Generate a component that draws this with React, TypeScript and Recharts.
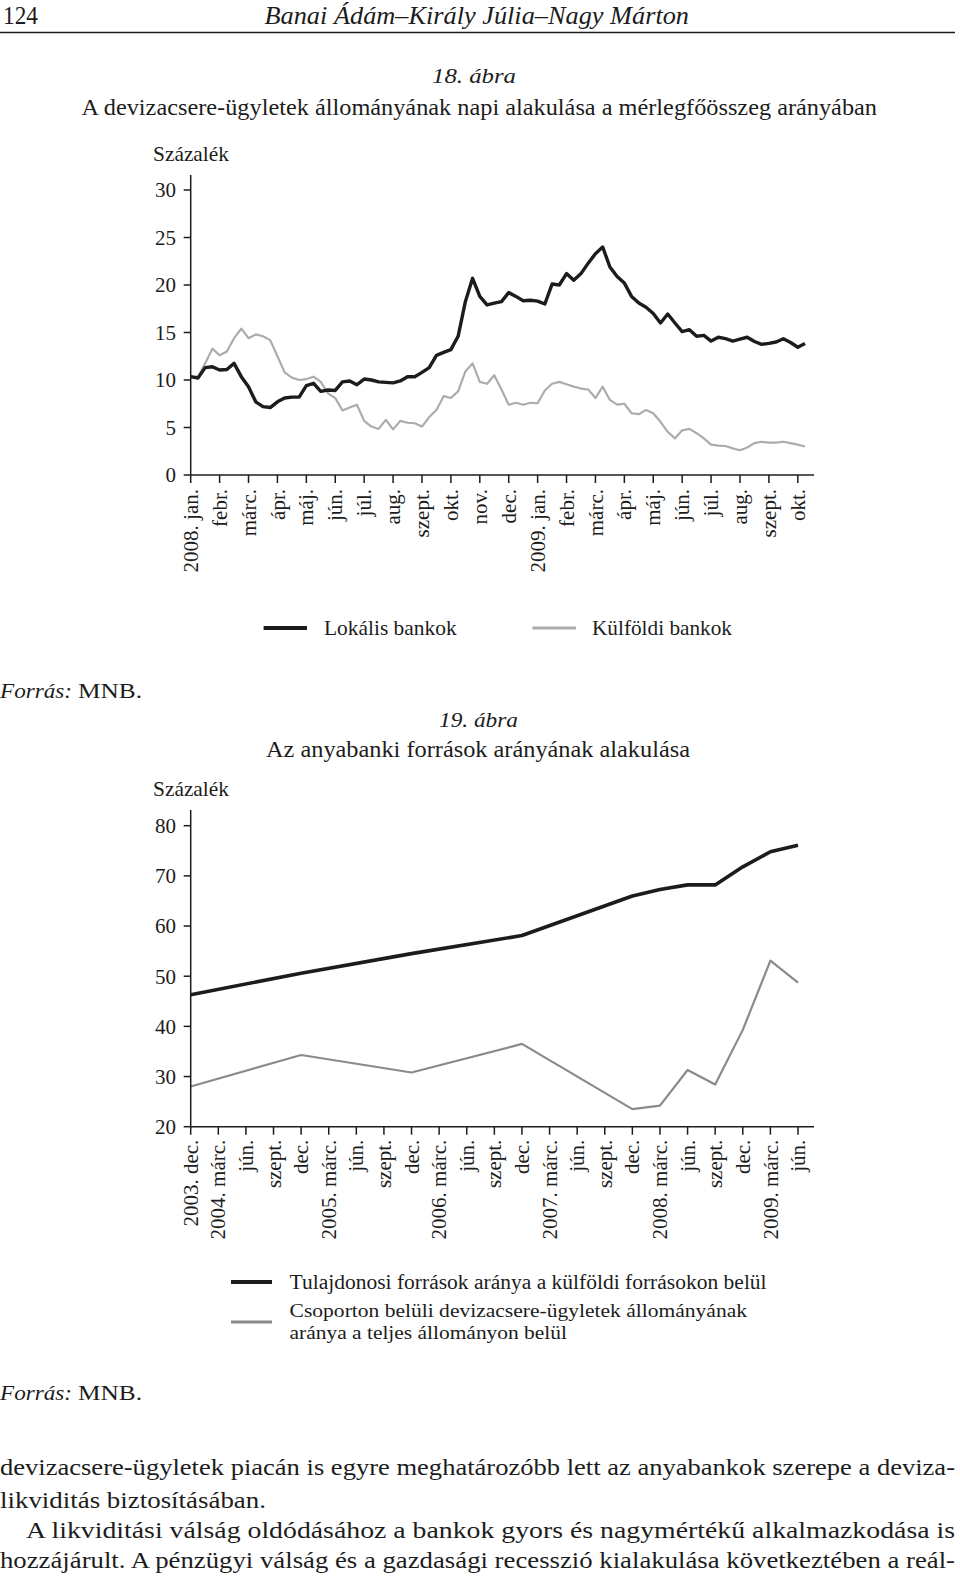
import React from 'react';
import { LineChart, Line, XAxis, YAxis } from 'recharts';

// ---------- Chart 18: weekly readings (quarter-month steps from 2008 Jan) ----------
const monthLabels = [
  '2008. jan.', 'febr.', 'márc.', 'ápr.', 'máj.', 'jún.', 'júl.', 'aug.', 'szept.', 'okt.', 'nov.', 'dec.',
  '2009. jan.', 'febr.', 'márc.', 'ápr.', 'máj.', 'jún.', 'júl.', 'aug.', 'szept.', 'okt.',
];
const monthTicks = [0, 1, 2, 3, 4, 5, 6, 7, 8, 9, 10, 11, 12, 13, 14, 15, 16, 17, 18, 19, 20, 21];
const pctTicks1 = [0, 5, 10, 15, 20, 25, 30];

const localBanks = [
  10.35, 10.2, 11.3, 11.4, 11.05, 11.1, 11.75, 10.35, 9.3, 7.7,
  7.2, 7.1, 7.7, 8.1, 8.2, 8.2, 9.4, 9.65, 8.8, 8.95,
  8.9, 9.8, 9.9, 9.5, 10.1, 10.0, 9.8, 9.75, 9.7, 9.9,
  10.35, 10.35, 10.8, 11.3, 12.6, 12.9, 13.2, 14.6, 18.25, 20.7,
  18.8, 17.9, 18.1, 18.25, 19.2, 18.8, 18.35, 18.4, 18.3, 18.0,
  20.1, 20.0, 21.2, 20.5, 21.2, 22.3, 23.3, 24.0, 21.9, 20.9,
  20.2, 18.8, 18.1, 17.65, 17.0, 16.0, 16.95, 16.0, 15.1, 15.3,
  14.6, 14.7, 14.1, 14.5, 14.35, 14.1, 14.3, 14.5, 14.05, 13.75,
  13.85, 14.0, 14.35, 13.95, 13.45, 13.85,
];
const foreignBanks = [
  10.35, 10.35, 11.75, 13.3, 12.6, 13.0, 14.4, 15.4, 14.4, 14.8,
  14.6, 14.2, 12.5, 10.8, 10.25, 10.0, 10.1, 10.35, 9.8, 8.6,
  8.1, 6.8, 7.1, 7.4, 5.7, 5.1, 4.85, 5.8, 4.8, 5.7,
  5.5, 5.45, 5.1, 6.1, 6.85, 8.3, 8.1, 8.8, 10.9, 11.75,
  9.8, 9.6, 10.5, 9.0, 7.4, 7.6, 7.4, 7.6, 7.55, 8.9,
  9.6, 9.8, 9.55, 9.3, 9.1, 9.0, 8.1, 9.3, 7.9, 7.4,
  7.5, 6.5, 6.4, 6.85, 6.5, 5.6, 4.55, 3.85, 4.7, 4.85,
  4.4, 3.85, 3.2, 3.1, 3.05, 2.8, 2.6, 2.9, 3.35, 3.5,
  3.4, 3.4, 3.5, 3.35, 3.2, 3.0,
];
const stepsPerMonth = 4;

// ---------- Chart 19: quarterly ----------
const quarterLabels = [
  '2003. dec.', '2004. márc.', 'jún.', 'szept.', 'dec.', '2005. márc.', 'jún.', 'szept.', 'dec.',
  '2006. márc.', 'jún.', 'szept.', 'dec.', '2007. márc.', 'jún.', 'szept.', 'dec.',
  '2008. márc.', 'jún.', 'szept.', 'dec.', '2009. márc.', 'jún.',
];
const pctTicks2 = [20, 30, 40, 50, 60, 70, 80];
const ownerShare = [
  46.3, null, null, null, 50.6, null, null, null, 54.5, null, null, null,
  58.1, null, null, null, 66.0, 67.3, 68.2, 68.2, 71.8, 74.8, 76.1,
];
const intraGroupSwapShare = [
  28.0, null, null, null, 34.3, null, null, null, 30.8, null, null, null,
  36.5, null, null, null, 23.5, 24.2, 31.3, 28.4, 39.3, 53.1, 48.7,
];

const data1 = localBanks.map((v, i) => ({ t: i / stepsPerMonth, local: v, foreign: foreignBanks[i] }));
const data2 = quarterLabels.map((q, i) => ({ q: i, owner: ownerShare[i], swap: intraGroupSwapShare[i] }));

const FONT = '"Liberation Serif", "Times New Roman", serif';
const INK = '#1c1c1c';

const makeRotTick = (labels: string[]) => (props: any) => {
  const { x, y, payload } = props;
  return (
    <text
      x={x}
      y={y}
      transform={`rotate(-90, ${x}, ${y})`}
      textAnchor="end"
      dy="0.34em"
      fontFamily={FONT}
      fontSize={21}
      fill={INK}
    >
      {labels[payload.value]}
    </text>
  );
};

const T = ({ x, y, w, size = 21, italic = false, children, anchor = 'start' }: any) => (
  <text
    x={x}
    y={y}
    fontFamily={FONT}
    fontSize={size}
    fontStyle={italic ? 'italic' : 'normal'}
    fill={INK}
    textLength={w}
    lengthAdjust="spacingAndGlyphs"
    textAnchor={anchor}
  >
    {children}
  </text>
);

export default function App() {
  const axisProps = { stroke: INK, strokeWidth: 1.5 };
  return (
    <div style={{ position: 'absolute', left: 0, top: 0, width: 960, height: 1576, background: '#fff', overflow: 'hidden' }}>
      {/* Chart 18 */}
      <div style={{ position: 'absolute', left: 0, top: 0 }}>
        <LineChart width={960} height={600} data={data1} margin={{ top: 175, right: 146, bottom: 25, left: 130.7 }}>
          <XAxis
            dataKey="t"
            type="number"
            domain={[0, 21.56]}
            ticks={monthTicks}
            interval={0}
            allowDataOverflow
            height={100}
            tickSize={8}
            tickMargin={6}
            axisLine={axisProps}
            tickLine={axisProps}
            tick={makeRotTick(monthLabels)}
          />
          <YAxis
            type="number"
            domain={[0, 31.58]}
            ticks={pctTicks1}
            interval={0}
            width={60}
            tickSize={7}
            tickMargin={7.7}
            axisLine={axisProps}
            tickLine={axisProps}
            tick={{ fontFamily: FONT, fontSize: 21, fill: INK }}
          />
          <Line dataKey="foreign" stroke="#acacac" strokeWidth={2.2} dot={false} isAnimationActive={false} strokeLinejoin="round" />
          <Line dataKey="local" stroke={INK} strokeWidth={3.4} dot={false} isAnimationActive={false} strokeLinejoin="round" />
        </LineChart>
      </div>

      {/* Chart 19 */}
      <div style={{ position: 'absolute', left: 0, top: 700 }}>
        <LineChart width={960} height={560} data={data2} margin={{ top: 110, right: 146, bottom: 33.3, left: 130.7 }}>
          <XAxis
            dataKey="q"
            type="number"
            domain={[0, 22.58]}
            ticks={quarterLabels.map((_, i) => i)}
            interval={0}
            allowDataOverflow
            height={100}
            tickSize={8}
            tickMargin={5}
            axisLine={axisProps}
            tickLine={axisProps}
            tick={makeRotTick(quarterLabels)}
          />
          <YAxis
            type="number"
            domain={[20, 83.13]}
            ticks={pctTicks2}
            interval={0}
            width={60}
            tickSize={7}
            tickMargin={7.7}
            axisLine={axisProps}
            tickLine={axisProps}
            tick={{ fontFamily: FONT, fontSize: 21, fill: INK }}
          />
          <Line dataKey="swap" stroke="#8a8a8a" strokeWidth={2.2} dot={false} connectNulls isAnimationActive={false} strokeLinejoin="round" />
          <Line dataKey="owner" stroke={INK} strokeWidth={3.6} dot={false} connectNulls isAnimationActive={false} strokeLinejoin="round" />
        </LineChart>
      </div>

      {/* Page text */}
      <svg width={960} height={1576} style={{ position: 'absolute', left: 0, top: 0, pointerEvents: 'none' }}>
        <T x={3} y={24} w={35} size={25}>124</T>
        <T x={264.5} y={24} w={424.5} size={25} italic>Banai Ádám–Király Júlia–Nagy Márton</T>
        <line x1={0} y1={32.5} x2={955} y2={32.5} stroke={INK} strokeWidth={1.6} />

        <T x={432} y={83} w={84} size={22} italic>18. ábra</T>
        <T x={81.5} y={115} w={795.5} size={23.5}>A devizacsere-ügyletek állományának napi alakulása a mérlegfőösszeg arányában</T>
        <T x={153} y={160.5} w={76} size={21}>Százalék</T>

        <line x1={263.6} y1={628} x2={307} y2={628} stroke={INK} strokeWidth={4} />
        <T x={324} y={635} w={132.6} size={21}>Lokális bankok</T>
        <line x1={532.5} y1={628} x2={576} y2={628} stroke="#acacac" strokeWidth={3} />
        <T x={592} y={635} w={140} size={21}>Külföldi bankok</T>

        <T x={0} y={698} w={72} size={21} italic>Forrás:</T>
        <T x={78} y={698} w={64} size={21}>MNB.</T>

        <T x={439} y={727} w={79} size={22} italic>19. ábra</T>
        <T x={266} y={757} w={424} size={23.5}>Az anyabanki források arányának alakulása</T>
        <T x={153} y={796} w={76} size={21}>Százalék</T>

        <line x1={231} y1={1282} x2={272} y2={1282} stroke={INK} strokeWidth={4} />
        <T x={289.6} y={1289} w={477} size={20}>Tulajdonosi források aránya a külföldi forrásokon belül</T>
        <line x1={231} y1={1322} x2={272} y2={1322} stroke="#8a8a8a" strokeWidth={3} />
        <T x={289.6} y={1316.5} w={457.4} size={19}>Csoporton belüli devizacsere-ügyletek állományának</T>
        <T x={289.6} y={1339} w={277.4} size={19}>aránya a teljes állományon belül</T>

        <T x={0} y={1400} w={72} size={21} italic>Forrás:</T>
        <T x={78} y={1400} w={64} size={21}>MNB.</T>

        <T x={0} y={1475} w={955} size={22.5}>devizacsere-ügyletek piacán is egyre meghatározóbb lett az anyabankok szerepe a deviza-</T>
        <T x={0} y={1508} w={266} size={22.5}>likviditás biztosításában.</T>
        <T x={26} y={1538} w={929} size={22.5}>A likviditási válság oldódásához a bankok gyors és nagymértékű alkalmazkodása is</T>
        <T x={0} y={1568} w={955} size={22.5}>hozzájárult. A pénzügyi válság és a gazdasági recesszió kialakulása következtében a reál-</T>
      </svg>
    </div>
  );
}
